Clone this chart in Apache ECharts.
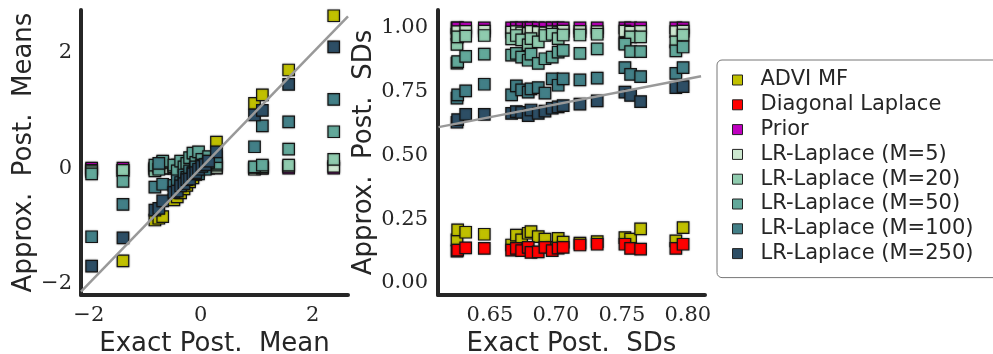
<!DOCTYPE html>
<html>
<head>
<meta charset="utf-8">
<script src="https://cdn.jsdelivr.net/npm/echarts@6/dist/echarts.min.js"></script>
<style>
  html, body { margin: 0; background: #fff; }
  #chart { width: 993px; height: 354px; }
</style>
</head>
<body>
<div id="chart"></div>
<script>
// left panel: posterior means, one entry per parameter
const meanExact = [-1.95, -1.39, -0.82, -0.75, -0.68, -0.48, -0.42, -0.36, -0.30, -0.25, -0.20,
  -0.14, -0.09, -0.04, 0.02, 0.08, 0.14, 0.28, 0.96, 1.10, 1.57, 2.375];
const meanAdvi = [-0.02, -1.61, -0.90, -0.87, -0.84, -0.55, -0.50, -0.43, -0.36, -0.30, -0.24,
  -0.17, -0.11, -0.05, 0.02, 0.09, 0.16, 0.45, 1.12, 1.27, 1.70, 2.64];
const meanPrior = [0, 0, 0, 0, 0, 0, 0, 0, 0, 0, 0, 0, 0, 0, 0, 0, 0, 0, 0, 0, 0, 0];
const meanLr5 = [-0.04, -0.04, -0.02, 0.01, 0.0, 0.0, 0.01, 0.0, 0.02, 0.0, 0.01,
  0.03, 0.0, 0.02, 0.01, 0.0, 0.02, 0.01, -0.02, 0.0, 0.03, 0.03];
const meanLr20 = [-0.06, -0.04, -0.05, 0.02, 0.10, 0.02, 0.05, 0.0, 0.08, 0.03, 0.06,
  0.12, 0.04, 0.10, 0.06, 0.02, 0.09, 0.05, 0.01, 0.02, 0.05, 0.15];
const meanLr50 = [-0.10, -0.23, 0.05, -0.02, 0.12, 0.05, -0.05, 0.12, 0.02, 0.08, 0.18,
  0.26, 0.10, 0.28, 0.15, 0.05, 0.20, 0.08, 0.02, 0.05, 0.33, 0.63];
const meanLr100 = [-1.19, -0.63, -0.33, 0.08, -0.28, -0.30, -0.22, -0.25, -0.12, -0.16, -0.05,
  -0.08, 0.02, -0.10, 0.05, -0.02, 0.10, 0.20, 0.37, 0.73, 0.80, 1.19];
const meanLr250 = [-1.70, -1.21, -0.73, -0.70, -0.57, -0.42, -0.40, -0.31, -0.27, -0.20, -0.19,
  -0.10, -0.08, -0.02, 0.03, 0.06, 0.12, 0.28, 0.92, 1.00, 1.45, 2.10];

// right panel: posterior standard deviations
const sdExact = [0.6250, 0.6255, 0.6316, 0.6457, 0.6664, 0.6700, 0.6740, 0.6790, 0.6811, 0.6866,
  0.6917, 0.6972, 0.7017, 0.7055, 0.7182, 0.7313, 0.7523, 0.7566, 0.7642, 0.7909, 0.7964];
const sdAdvi = [0.169, 0.208, 0.199, 0.191, 0.149, 0.188, 0.169, 0.195, 0.201, 0.182,
  0.172, 0.140, 0.175, 0.160, 0.156, 0.162, 0.178, 0.172, 0.212, 0.165, 0.217];
const sdDiag = [0.125, 0.129, 0.138, 0.136, 0.129, 0.136, 0.127, 0.140, 0.120, 0.122,
  0.140, 0.127, 0.137, 0.140, 0.149, 0.152, 0.152, 0.136, 0.133, 0.136, 0.152];
const sdPrior = [1, 1, 1, 1, 1, 1, 1, 1, 1, 1, 1, 1, 1, 1, 1, 1, 1, 1, 1, 1, 1];
const sdLr5 = [0.975, 0.985, 0.986, 0.987, 0.983, 0.985, 0.980, 0.978, 0.986, 0.982,
  0.980, 0.985, 0.981, 0.987, 0.986, 0.985, 0.987, 0.983, 0.986, 0.985, 0.987];
const sdLr20 = [0.935, 0.965, 0.968, 0.970, 0.957, 0.970, 0.953, 0.933, 0.958, 0.945,
  0.970, 0.975, 0.958, 0.972, 0.972, 0.975, 0.940, 0.965, 0.965, 0.945, 0.972];
const sdLr50 = [0.862, 0.868, 0.888, 0.897, 0.893, 0.900, 0.885, 0.873, 0.897, 0.861,
  0.879, 0.885, 0.905, 0.912, 0.900, 0.918, 0.936, 0.907, 0.907, 0.910, 0.925];
const sdLr100 = [0.725, 0.737, 0.753, 0.779, 0.737, 0.773, 0.757, 0.748, 0.761, 0.766,
  0.744, 0.800, 0.775, 0.800, 0.796, 0.803, 0.844, 0.818, 0.809, 0.822, 0.844];
const sdLr250 = [0.630, 0.640, 0.661, 0.661, 0.665, 0.672, 0.669, 0.656, 0.678, 0.665,
  0.674, 0.685, 0.690, 0.695, 0.701, 0.714, 0.748, 0.735, 0.711, 0.766, 0.770];

// y = x reference lines
const refLeft = [-2.14, 2.63];
const refRight = [0.611, 0.81];

const methodNames = ["ADVI MF", "Diagonal Laplace", "Prior", "LR-Laplace (M=5)",
  "LR-Laplace (M=20)", "LR-Laplace (M=50)", "LR-Laplace (M=100)", "LR-Laplace (M=250)"];
const methodColors = ["#c0c000", "#ff0000", "#bf00bf", "#cde8d0", "#8fcbae", "#62a89a", "#427f87", "#2d4e65"];
const meanCols = [meanAdvi, null, meanPrior, meanLr5, meanLr20, meanLr50, meanLr100, meanLr250];
const sdCols = [sdAdvi, sdDiag, sdPrior, sdLr5, sdLr20, sdLr50, sdLr100, sdLr250];

const ink = "#262626";
const tickFont = { fontFamily: "DejaVu Serif", fontSize: 21, color: ink };
const nameFont = { fontFamily: "DejaVu Sans", fontSize: 26, color: ink };
const minus = (v) => (v < 0 ? "\u2212" + Math.abs(v) : String(v));

function axis(extra) {
  return Object.assign({
    type: "value",
    nameLocation: "middle",
    nameTextStyle: nameFont,
    axisLine: { onZero: false, lineStyle: { color: ink, width: 4 } },
    axisTick: { show: false },
    splitLine: { show: false }
  }, extra);
}

function pairs(xs, ys) {
  return xs.map((x, i) => [x, ys[i]]);
}

const series = [];
methodNames.forEach((name, k) => {
  const style = { color: methodColors[k], opacity: 1, borderColor: "#151515", borderWidth: 1.2,
    shadowBlur: 2, shadowColor: "rgba(0,0,0,0.3)" };
  if (meanCols[k]) {
    series.push({ name, type: "scatter", xAxisIndex: 0, yAxisIndex: 0, symbol: "rect",
      symbolSize: 11.5, itemStyle: style, data: pairs(meanExact, meanCols[k]) });
  }
  series.push({ name, type: "scatter", xAxisIndex: 1, yAxisIndex: 1, symbol: "rect",
    symbolSize: 11.5, itemStyle: style, data: pairs(sdExact, sdCols[k]) });
});
series.push({ name: "ref-left", type: "line", xAxisIndex: 0, yAxisIndex: 0, symbol: "none", z: 5,
  silent: true, lineStyle: { color: "#999", width: 2.5 }, data: pairs(refLeft, refLeft) });
series.push({ name: "ref-right", type: "line", xAxisIndex: 1, yAxisIndex: 1, symbol: "none", z: 5,
  silent: true, lineStyle: { color: "#999", width: 2.5 }, data: pairs(refRight, refRight) });

const chart = echarts.init(document.getElementById("chart"));
chart.setOption({
  animation: false,
  backgroundColor: "#fff",
  grid: [
    { left: 81, top: 10, width: 267, height: 285, outerBoundsMode: "none" },
    { left: 438, top: 10, width: 267, height: 285, outerBoundsMode: "none" }
  ],
  xAxis: [
    axis({ gridIndex: 0, min: -2.14, max: 2.63, name: "Exact Post.  Mean", nameGap: 28,
      axisLabel: Object.assign({ customValues: [-2, 0, 2], margin: 10, formatter: minus }, tickFont) }),
    axis({ gridIndex: 1, min: 0.6106, max: 0.813, name: "Exact Post.  SDs", nameGap: 28,
      axisLabel: Object.assign({ customValues: [0.65, 0.7, 0.75, 0.8], margin: 10,
        formatter: (v) => v.toFixed(2) }, tickFont) })
  ],
  yAxis: [
    axis({ gridIndex: 0, min: -2.2, max: 2.74, name: "Approx.  Post.  Means", nameGap: 44,
      axisLabel: Object.assign({ customValues: [-2, 0, 2], margin: 9, formatter: minus }, tickFont) }),
    axis({ gridIndex: 1, min: -0.047, max: 1.07, name: "Approx.  Post.  SDs", nameGap: 56,
      axisLabel: Object.assign({ customValues: [0, 0.25, 0.5, 0.75, 1], margin: 10,
        formatter: (v) => v.toFixed(2) }, tickFont) })
  ],
  legend: {
    data: methodNames,
    orient: "vertical",
    left: 717,
    top: 60,
    padding: [9, 40, 13, 15],
    itemWidth: 36,
    itemHeight: 10,
    itemGap: 2.8,
    icon: "path://M0,0H10V10H0Z",
    symbolKeepAspect: true,
    borderColor: "#777",
    borderWidth: 1,
    borderRadius: 5,
    itemStyle: { opacity: 1, borderColor: "#222", borderWidth: 1, shadowBlur: 0 },
    textStyle: { fontFamily: "DejaVu Sans", fontSize: 21, color: ink, lineHeight: 22 }
  },
  series
});
</script>
</body>
</html>
